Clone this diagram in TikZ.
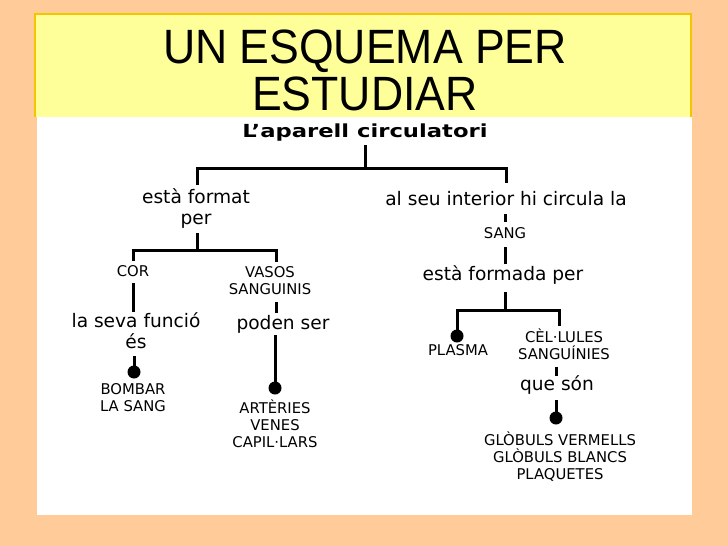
\documentclass[tikz,border=0pt]{standalone}
\usepackage{fontspec}
\setmainfont{Liberation Sans}
\newfontfamily\hand{DejaVu Sans}
\newfontfamily\headfont{DejaVu Sans Bold}
\definecolor{peach}{HTML}{FFCC99}
\definecolor{pale}{HTML}{FFFF99}
\definecolor{gold}{HTML}{F5C400}
\begin{document}
\begin{tikzpicture}[x=1pt,y=-1pt,
  ln/.style={line width=3pt,line cap=butt,line join=miter},
  dotc/.style={circle,fill=black,inner sep=0pt,minimum size=13pt},
  ttl/.style={anchor=base,inner sep=0pt,font=\fontsize{44.6}{50}\selectfont},
  hd/.style={anchor=base,inner sep=0pt,font=\headfont\fontsize{18}{21}\selectfont},
  lc/.style={anchor=base,inner sep=0pt,align=center,font=\hand\fontsize{18.6}{21}\selectfont},
  uc/.style={anchor=base,inner sep=0pt,align=center,font=\hand\fontsize{14.8}{17}\selectfont},
]
\useasboundingbox (0,0) rectangle (728,546);
\fill[peach] (0,0) rectangle (728,546);
\fill[white] (37,117) rectangle (692,515);
\fill[pale] (35,14) rectangle (691,117);
\draw[gold,line width=1.5pt] (35,117) -- (35,14) -- (691,14) -- (691,117);

% titles
\node[ttl] (t1) at (365,63) {\scalebox{1}[1.08]{UN ESQUEMA PER}};
\node[ttl] (t2) at (365,110) {\scalebox{1}[1.08]{ESTUDIAR}};
\node[hd] (head) at (365,137) {\scalebox{1.26}[1]{L’aparell circulatori}};

% text nodes (base = baseline of last line)
\node[lc] (format) at (196,224) {està format\\per};
\node[lc] (interior) at (506,205) {al seu interior hi circula la};
\node[uc] (sang) at (505,238) {SANG};
\node[lc] (formada) at (503,280) {està formada per};
\node[uc] (cor) at (133,276) {COR};
\node[uc] (vasos) at (270,294) {VASOS\\SANGUINIS};
\node[lc] (funcio) at (136,348) {la seva funció\\és};
\node[lc] (poden) at (283,329) {poden ser};
\node[uc] (bombar) at (133,411) {BOMBAR\\LA SANG};
\node[uc] (arteries) at (275,447) {ARTÈRIES\\VENES\\CAPIL·LARS};
\node[uc] (plasma) at (458,355) {PLASMA};
\node[uc] (cellules) at (564,359) {CÈL·LULES\\SANGUÍNIES};
\node[lc] (queson) at (557,390) {que són};
\node[uc] (globuls) at (560,479) {GLÒBULS VERMELLS\\GLÒBULS BLANCS\\PLAQUETES};

% dots
\node[dotc] (dA) at (134,372) {};
\node[dotc] (dB) at (275,388) {};
\node[dotc] (dC) at (457,336) {};
\node[dotc] (dD) at (556,418) {};

% junction coordinates
\coordinate (a0) at (365,145);
\coordinate (a1) at (365,168);
\coordinate (aL) at (197,168);
\coordinate (aR) at (506,168);
\coordinate (aLe) at (197,185);
\coordinate (aRe) at (506,183);
\coordinate (b0) at (197,233);
\coordinate (b1) at (197,250);
\coordinate (bL) at (133,250);
\coordinate (bR) at (276,250);
\coordinate (bLe) at (133,261);
\coordinate (bRe) at (276,262);
\coordinate (c0) at (133,283);
\coordinate (c1) at (133,312);
\coordinate (v0) at (276,302);
\coordinate (v1) at (276,313);
\coordinate (e0) at (134,356);
\coordinate (p0) at (275,335);
\coordinate (s0) at (505,214);
\coordinate (s1) at (505,222);
\coordinate (s2) at (505,247);
\coordinate (s3) at (505,264);
\coordinate (f0) at (505,292);
\coordinate (f1) at (505,310);
\coordinate (fL) at (457,310);
\coordinate (fR) at (559,310);
\coordinate (fRe) at (559,326);
\coordinate (q0) at (556,367);
\coordinate (q1) at (556,376);
\coordinate (q2) at (556,400);

% connectors
\draw[ln] (a0) -- (a1);
\draw[ln] (aLe) -- (aL) -- (aR) -- (aRe);
\draw[ln] (b0) -- (b1);
\draw[ln] (bLe) -- (bL) -- (bR) -- (bRe);
\draw[ln] (c0) -- (c1);
\draw[ln] (v0) -- (v1);
\draw[ln] (e0) -- (dA.center);
\draw[ln] (p0) -- (dB.center);
\draw[ln] (s0) -- (s1);
\draw[ln] (s2) -- (s3);
\draw[ln] (f0) -- (f1);
\draw[ln] (dC.center) -- (fL) -- (fR) -- (fRe);
\draw[ln] (q0) -- (q1);
\draw[ln] (q2) -- (dD.center);
\end{tikzpicture}
\end{document}
